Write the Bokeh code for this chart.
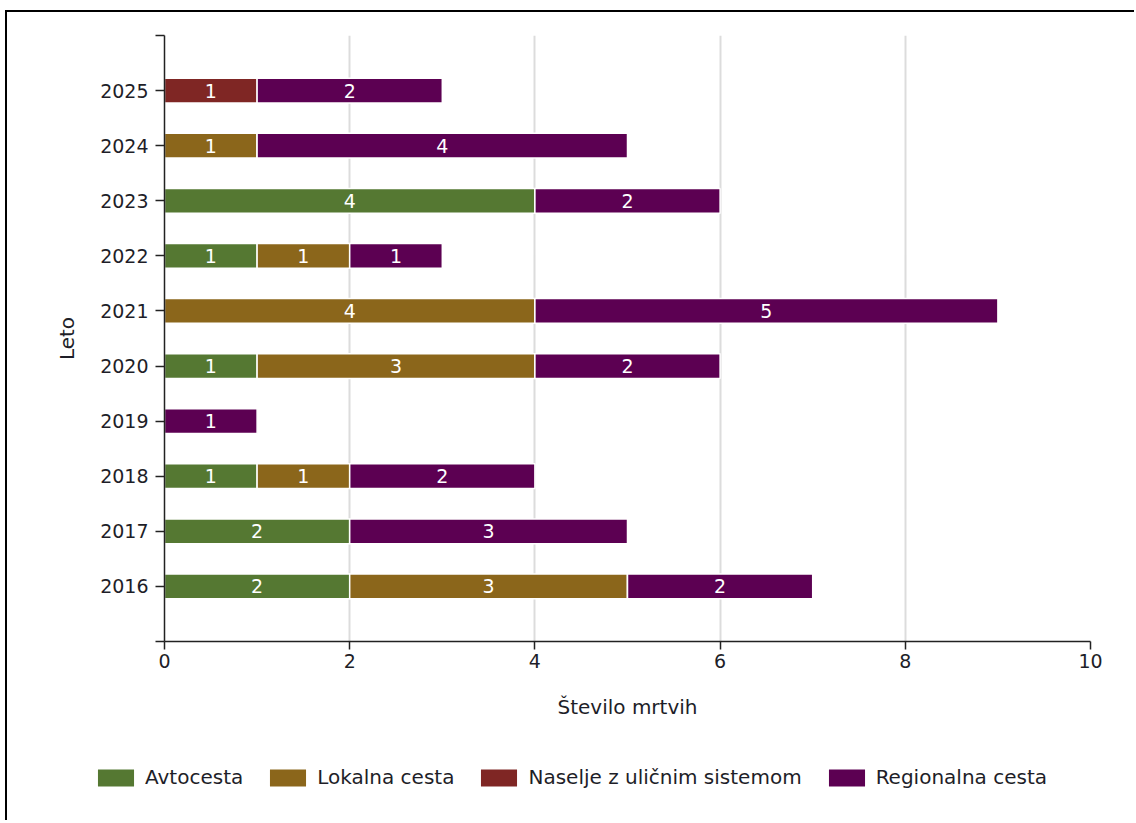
from bokeh.plotting import figure
from bokeh.models import ColumnDataSource, FixedTicker, Legend, LegendItem, Range1d
from bokeh.core.properties import value
from bokeh.embed import file_html
from bokeh.resources import INLINE

years = [2016, 2017, 2018, 2019, 2020, 2021, 2022, 2023, 2024, 2025]
series_names = ["Avtocesta", "Lokalna cesta", "Naselje z uličnim sistemom", "Regionalna cesta"]
avtocesta = [2, 2, 1, 0, 1, 0, 1, 4, 0, 0]
lokalna = [3, 0, 1, 0, 3, 4, 1, 0, 1, 0]
naselje = [0, 0, 0, 0, 0, 0, 0, 0, 0, 1]
regionalna = [2, 3, 2, 1, 2, 5, 1, 2, 4, 2]
colors = ["#557832", "#8b661b", "#7f2624", "#5c0052"]
x_ticks = [0, 2, 4, 6, 8, 10]

FONT = "DejaVu Sans"
TXT = "#1e1e28"

keys = ["avt", "lok", "nas", "reg"]
data = dict(year=years, avt=avtocesta, lok=lokalna, nas=naselje, reg=regionalna)
source = ColumnDataSource(data)

p = figure(width=1129, height=729, output_backend="svg", toolbar_location=None,
           x_range=Range1d(0, 10), y_range=Range1d(2015, 2026),
           min_border_left=157, min_border_right=46, min_border_top=23, min_border_bottom=100)
p.outline_line_color = None
p.styles = {"border-top": "2px solid black", "border-left": "2px solid black",
            "margin-left": "5px", "margin-top": "10px"}

p.hbar_stack(keys, y="year", height=0.45, color=colors, source=source,
             line_color="white", line_width=1.5)

# segment labels
lx, ly, lt = [], [], []
for i, yr in enumerate(years):
    left = 0
    for arr in (avtocesta, lokalna, naselje, regionalna):
        v = arr[i]
        if v > 0:
            lx.append(left + v / 2)
            ly.append(yr)
            lt.append(str(v))
        left += v
p.text(x=lx, y=ly, text=lt, text_color="white", text_align="center", text_baseline="middle",
       text_font=value(FONT), text_font_size="19px")

# axes
p.xaxis.ticker = FixedTicker(ticks=x_ticks)
p.yaxis.ticker = FixedTicker(ticks=list(range(2015, 2027)))
p.yaxis.major_label_overrides = {2015: "", 2026: ""}
p.xaxis.axis_label = "Število mrtvih"
p.yaxis.axis_label = "Leto"
for ax in (p.xaxis, p.yaxis):
    ax.axis_line_color = "#222222"
    ax.axis_line_width = 1.5
    ax.major_tick_line_color = "#222222"
    ax.major_tick_line_width = 1.5
    ax.major_tick_in = 0
    ax.minor_tick_line_color = None
    ax.major_label_text_font = FONT
    ax.major_label_text_font_size = "19px"
    ax.major_label_text_color = TXT
    ax.axis_label_text_font = FONT
    ax.axis_label_text_font_size = "20px"
    ax.axis_label_text_font_style = "normal"
    ax.axis_label_text_color = TXT
p.yaxis.major_tick_out = 9
p.xaxis.major_tick_out = 8
p.yaxis.major_label_standoff = 7
p.xaxis.major_label_standoff = 4
p.yaxis.axis_label_standoff = 18
p.xaxis.axis_label_standoff = 24

p.xgrid.grid_line_color = "#dcdcdc"
p.xgrid.grid_line_width = 2
p.ygrid.grid_line_color = None

# legend strip below the chart (a separate root, so its frame spans the full width)
pl = figure(width=1129, height=81, output_backend="svg", toolbar_location=None,
            x_range=Range1d(100, 101), y_range=Range1d(3000, 3001),
            min_border=0, x_axis_location=None, y_axis_location=None)
pl.outline_line_color = None
pl.background_fill_color = "white"
pl.border_fill_color = "white"
pl.xgrid.grid_line_color = None
pl.ygrid.grid_line_color = None
pl.styles = {"border-left": "2px solid black", "margin-left": "5px"}
# same stacked data, far outside this strip's visible range: only used for legend swatches
swatches = pl.hbar_stack(keys, y="year", height=0.45, color=colors, source=source,
                         line_color="white", line_width=1.5)
items = [LegendItem(label=n, renderers=[r]) for n, r in zip(series_names, swatches)]
legend = Legend(items=items, orientation="horizontal", location=(85, 31),
                glyph_width=47, glyph_height=23, label_standoff=6, spacing=21,
                padding=0, margin=0, border_line_color=None, background_fill_alpha=0,
                label_text_font=FONT, label_text_font_size="20px", label_text_color=TXT)
pl.add_layout(legend, "center")

open("out.html", "w").write(file_html([p, pl], INLINE))
